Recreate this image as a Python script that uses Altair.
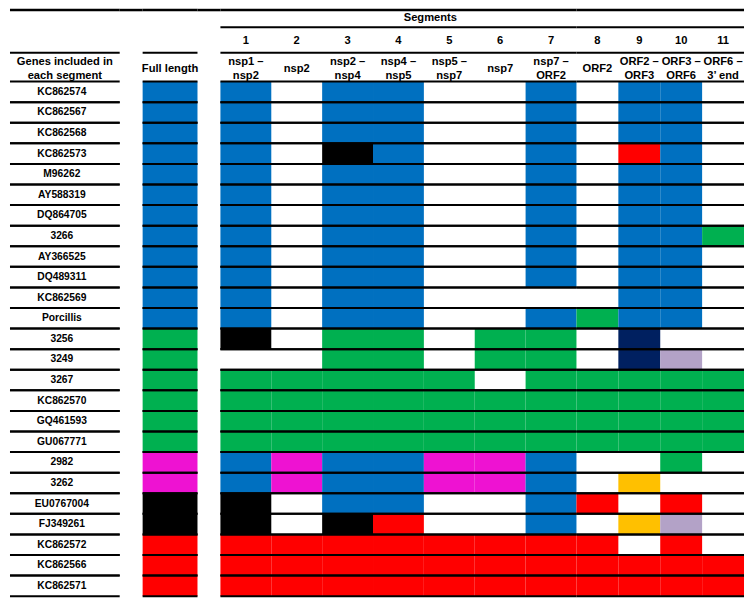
import altair as alt
import pandas as pd

# ---------------- data ----------------
genes = ["KC862574", "KC862567", "KC862568", "KC862573", "M96262", "AY588319",
         "DQ864705", "3266", "AY366525", "DQ489311", "KC862569", "Porcillis",
         "3256", "3249", "3267", "KC862570", "GQ461593", "GU067771",
         "2982", "3262", "EU0767004", "FJ349261", "KC862572", "KC862566", "KC862571"]

# colour codes: B blue, G green, M magenta, K black, R red, N navy, L lavender, O orange, W none
full_length = ["B", "B", "B", "B", "B", "B", "B", "B", "B", "B", "B", "B",
               "G", "G", "G", "G", "G", "G", "M", "M", "K", "K", "R", "R", "R"]

seg1 = ["B", "B", "B", "B", "B", "B", "B", "B", "B", "B", "B", "B",
        "K", "W", "G", "G", "G", "G", "B", "B", "K", "K", "R", "R", "R"]
seg2 = ["W", "W", "W", "W", "W", "W", "W", "W", "W", "W", "W", "W",
        "W", "W", "G", "G", "G", "G", "M", "M", "W", "W", "R", "R", "R"]
seg3 = ["B", "B", "B", "K", "B", "B", "B", "B", "B", "B", "B", "B",
        "G", "G", "G", "G", "G", "G", "B", "B", "B", "K", "R", "R", "R"]
seg4 = ["B", "B", "B", "B", "B", "B", "B", "B", "B", "B", "B", "B",
        "G", "G", "G", "G", "G", "G", "B", "B", "B", "R", "R", "R", "R"]
seg5 = ["W", "W", "W", "W", "W", "W", "W", "W", "W", "W", "W", "W",
        "W", "W", "G", "G", "G", "G", "M", "M", "W", "W", "R", "R", "R"]
seg6 = ["W", "W", "W", "W", "W", "W", "W", "W", "W", "W", "W", "W",
        "G", "G", "W", "G", "G", "G", "M", "M", "W", "W", "R", "R", "R"]
seg7 = ["B", "B", "B", "B", "B", "B", "B", "B", "B", "B", "W", "B",
        "G", "G", "G", "G", "G", "G", "B", "B", "B", "B", "R", "R", "R"]
seg8 = ["W", "W", "W", "W", "W", "W", "W", "W", "W", "W", "W", "G",
        "W", "W", "G", "G", "G", "G", "W", "W", "R", "W", "R", "R", "R"]
seg9 = ["B", "B", "B", "R", "B", "B", "B", "B", "B", "B", "B", "B",
        "N", "N", "G", "G", "G", "G", "W", "O", "W", "O", "W", "R", "R"]
seg10 = ["B", "B", "B", "B", "B", "B", "B", "B", "B", "B", "B", "B",
         "W", "L", "G", "G", "G", "G", "G", "W", "R", "L", "R", "R", "R"]
seg11 = ["W", "W", "W", "W", "W", "W", "W", "G", "W", "W", "W", "W",
         "W", "W", "G", "G", "G", "G", "W", "W", "W", "W", "W", "R", "R"]

segment_numbers = ["1", "2", "3", "4", "5", "6", "7", "8", "9", "10", "11"]
segment_names = ["nsp1 –\nnsp2", "nsp2", "nsp2 –\nnsp4", "nsp4 –\nnsp5", "nsp5 –\nnsp7",
                 "nsp7", "nsp7 –\nORF2", "ORF2", "ORF2 –\nORF3", "ORF3 –\nORF6", "ORF6 –\n3’ end"]

colour_codes = ["B", "G", "M", "K", "R", "N", "L", "O"]
colour_values = ["#0070C0", "#00B050", "#EE12D2", "#000000", "#FF0000", "#002060", "#B3A2C7", "#FFC000"]

# ---------------- tables ----------------
segment_columns = [seg1, seg2, seg3, seg4, seg5, seg6, seg7, seg8, seg9, seg10, seg11]
cells = pd.DataFrame([
    {"seg": segment_numbers[s], "gene": genes[i], "code": segment_columns[s][i]}
    for s in range(len(segment_numbers)) for i in range(len(genes))
])
cells = cells[cells["code"] != "W"]
full_df = pd.DataFrame({"gene": genes, "code": full_length})
gene_df = pd.DataFrame({"gene": genes})
seg_df = pd.DataFrame({"seg": segment_numbers, "name": segment_names})

segs_a = segment_numbers[:7]
segs_b = segment_numbers[7:]

# ---------------- layout ----------------
FONT = "Liberation Sans"
W_L, W_F, GAP = 110, 55, 23
COL_A, COL_B = 51, 42
H_TOTAL = 589
Y_TOP, Y_SEGTITLE, Y_SEGLINE, Y_NUM, Y_HLINE = 1.25, 9.7, 18.5, 32, 44
Y_NAME2, Y_NAME1, Y_BODY0 = 53.5, 60, 73

yscale = alt.Scale(domain=genes, range=[Y_BODY0, H_TOTAL], paddingInner=0, paddingOuter=0)
cscale = alt.Scale(domain=colour_codes, range=colour_values)
one = pd.DataFrame({"a": [0]})


def hline(y, sw=2):
    return alt.Chart(one).mark_rule(color="black", strokeWidth=sw).encode(
        x=alt.value(0), x2=alt.value("width"), y=alt.value(y))


def row_rules():
    return [alt.Chart(gene_df).mark_rule(color="black", strokeWidth=2).encode(
        x=alt.value(0), x2=alt.value("width"),
        y=alt.Y("gene:N", scale=yscale, axis=None, bandPosition=bp)) for bp in (0, 1)]


def text_layer(df, field, y, size=11.2, **enc):
    return alt.Chart(df).mark_text(font=FONT, fontWeight="bold", fontSize=size, lineBreak="\n",
                                   lineHeight=13.5, baseline="middle", align="center",
                                   color="black").encode(text=f"{field}:N", y=alt.value(y), **enc)


# ---- label column ----
panel_l = alt.layer(
    hline(Y_TOP, 2.5), hline(Y_HLINE),
    text_layer(pd.DataFrame({"t": ["Genes included in\neach segment"]}), "t", Y_NAME2, x=alt.value(W_L / 2)),
    *row_rules(),
    alt.Chart(gene_df).mark_text(font=FONT, fontWeight="bold", fontSize=10.3, baseline="middle",
                                 align="center", dx=-3, color="black").encode(
        text="gene:N", x=alt.value(W_L / 2), y=alt.Y("gene:N", scale=yscale, axis=None)),
).properties(width=W_L, height=H_TOTAL)

# ---- gaps (only the top line crosses them) ----
gap1 = hline(Y_TOP, 2.5).properties(width=GAP, height=H_TOTAL)
gap2 = hline(Y_TOP, 2.5).properties(width=GAP, height=H_TOTAL)

# ---- full length column ----
panel_f = alt.layer(
    hline(Y_TOP, 2.5), hline(Y_HLINE),
    text_layer(pd.DataFrame({"t": ["Full length"]}), "t", Y_NAME1, x=alt.value(W_F / 2)),
    alt.Chart(full_df).mark_rect().encode(
        x=alt.value(0), x2=alt.value("width"),
        y=alt.Y("gene:N", scale=yscale, axis=None),
        color=alt.Color("code:N", scale=cscale, legend=None)),
    *row_rules(),
).properties(width=W_F, height=H_TOTAL)


# ---- segment columns ----
def seg_panel(domain, width, title):
    xs = alt.X("seg:N", scale=alt.Scale(domain=domain, paddingInner=0, paddingOuter=0), axis=None)
    df = seg_df[seg_df["seg"].isin(domain)]
    two = df[df["name"].str.contains("\n")]
    single = df[~df["name"].str.contains("\n")]
    layers = [hline(Y_TOP, 2.5), hline(Y_SEGLINE), hline(Y_HLINE),
              text_layer(df, "seg", Y_NUM, x=xs)]
    if len(two):
        layers.append(text_layer(two, "name", Y_NAME2, x=xs))
    if len(single):
        layers.append(text_layer(single, "name", Y_NAME1, x=xs))
    if title:
        layers.append(alt.Chart(pd.DataFrame({"seg": ["5"], "t": ["Segments"]})).mark_text(
            font=FONT, fontWeight="bold", fontSize=11.2, baseline="middle",
            align="center", dx=-19, color="black").encode(text="t:N", x=xs, y=alt.value(Y_SEGTITLE)))
    layers.append(alt.Chart(cells[cells["seg"].isin(domain)]).mark_rect().encode(
        x=xs, y=alt.Y("gene:N", scale=yscale, axis=None),
        color=alt.Color("code:N", scale=cscale, legend=None)))
    layers.extend(row_rules())
    return alt.layer(*layers).properties(width=width, height=H_TOTAL)


panel_a = seg_panel(segs_a, 7 * COL_A, True)
panel_b = seg_panel(segs_b, 4 * COL_B, False)

chart = alt.hconcat(panel_l, gap1, panel_f, gap2, panel_a, panel_b, spacing=0, bounds="flush").properties(
    padding={"left": 0, "top": 0, "right": 0, "bottom": 0}
).configure(font=FONT).configure_view(strokeWidth=0)

chart.save("out.html", embed_options={"renderer": "svg", "actions": False})
